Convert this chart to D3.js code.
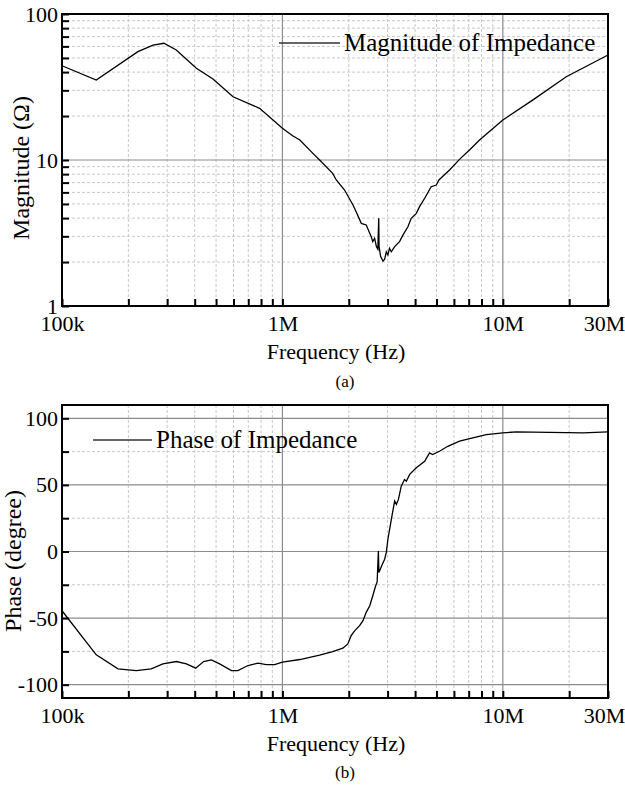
<!DOCTYPE html>
<html>
<head>
<meta charset="utf-8">
<script src="https://cdn.jsdelivr.net/npm/d3@7"></script>
<style>
  body { margin: 0; background: #fff; }
</style>
</head>
<body>
<svg id="chart" width="625" height="789"></svg>
<script>
var FONT = "'Liberation Serif', 'DejaVu Serif', 'Times New Roman', Times, serif";

// frequency axis (Hz)
var freqTicks = [1e5, 1e6, 1e7, 3e7];
var freqLabels = ["100k", "1M", "10M", "30M"];
var freqMinor = [2e5, 3e5, 4e5, 5e5, 6e5, 7e5, 8e5, 9e5, 2e6, 3e6, 4e6, 5e6, 6e6, 7e6, 8e6, 9e6, 2e7];

// magnitude curve
var magFreq = [1e5, 1.43e5, 2.21e5, 2.59e5, 2.9e5, 3.3e5, 4.07e5, 4.84e5, 5.97e5, 7.88e5,
  1.0e6, 1.117e6, 1.2e6, 1.375e6, 1.475e6, 1.69e6, 1.756e6, 1.914e6, 2.09e6, 2.16e6,
  2.28e6, 2.40e6, 2.49e6, 2.53e6, 2.57e6, 2.62e6, 2.67e6, 2.71e6, 2.735e6, 2.745e6,
  2.79e6, 2.86e6, 2.91e6, 2.96e6, 3.01e6, 3.06e6, 3.12e6, 3.23e6, 3.40e6, 3.52e6,
  3.71e6, 3.84e6, 4.05e6, 4.19e6, 4.42e6, 4.73e6, 4.99e6, 5.13e6, 5.73e6, 6.36e6,
  7.06e6, 7.84e6, 1.0e7, 1.37e7, 1.94e7, 3.0e7];
var magVal = [44.2, 35.3, 55.2, 61.3, 63.0, 56.7, 42.5, 35.9, 27.1, 22.6,
  16.5, 14.6, 13.7, 11.1, 10.0, 8.1, 7.3, 6.23, 4.92, 4.42,
  3.68, 3.59, 3.15, 2.98, 2.76, 2.91, 2.55, 2.45, 3.99, 2.55,
  2.18, 2.03, 2.09, 2.35, 2.24, 2.48, 2.35, 2.55, 2.76, 3.06,
  3.49, 3.99, 4.31, 4.79, 5.47, 6.56, 6.74, 7.3, 8.54, 10.1,
  11.7, 13.7, 18.8, 25.8, 37.2, 52.4];
var magTicks = [1, 10, 100];
var magMinor = [2, 3, 4, 5, 6, 7, 8, 9, 20, 30, 40, 50, 60, 70, 80, 90];

// phase curve
var phaseFreq = [1e5, 1.43e5, 1.795e5, 2.17e5, 2.54e5, 2.87e5, 3.3e5, 3.67e5, 4.04e5, 4.39e5,
  4.76e5, 5.19e5, 5.87e5, 6.28e5, 6.98e5, 7.74e5, 8.45e5, 9.22e5, 1.0e6, 1.2e6,
  1.475e6, 1.69e6, 1.88e6, 1.98e6, 2.05e6, 2.13e6, 2.24e6, 2.32e6, 2.40e6, 2.49e6,
  2.57e6, 2.65e6, 2.69e6, 2.725e6, 2.74e6, 2.84e6, 2.91e6, 2.96e6, 3.01e6, 3.12e6,
  3.23e6, 3.29e6, 3.36e6, 3.46e6, 3.58e6, 3.65e6, 3.78e6, 4.05e6, 4.42e6, 4.65e6,
  4.80e6, 5.16e6, 5.63e6, 6.36e6, 7.31e6, 8.41e6, 1.0e7, 1.15e7, 1.63e7, 2.31e7, 3.0e7];
var phaseVal = [-44.5, -77.6, -88.1, -89.4, -88.1, -84.4, -82.6, -84.4, -87.6, -82.6,
  -81.4, -84.4, -89.4, -89.4, -85.6, -83.8, -84.9, -84.9, -83.1, -81.1,
  -77.8, -75.1, -72.6, -69.4, -63.2, -59.4, -55.7, -51.9, -45.7, -40.7,
  -33.2, -25.7, -22.8, 0.4, -15.7, -9.5, -5.8, -0.7, 9.2, 24.2,
  37.9, 35.4, 39.1, 49.1, 54.1, 52.8, 57.9, 62.9, 67.8, 74.1,
  72.8, 75.3, 79.0, 82.8, 85.3, 87.8, 89.1, 89.8, 89.5, 89.1, 89.8];
var phaseTicks = [-100, -50, 0, 50, 100];
var phaseMinor = [-75, -25, 25, 75];

var svg = d3.select("#chart");
var left = 62, right = 608;

function addText(g, s, size){
  return g.append("text").attr("font-family", FONT).attr("font-size", size)
    .attr("fill", "#000").text(s);
}

function drawPanel(o){
  var g = svg.append("g");
  var x = d3.scaleLog().domain([1e5, 3e7]).range([left, right]);
  var y = o.y;
  var top = y.range()[1], bottom = y.range()[0];

  // minor grid (dashed)
  g.selectAll(".vminor").data(freqMinor).enter().append("line")
    .attr("x1", function(d){ return x(d); }).attr("x2", function(d){ return x(d); })
    .attr("y1", top).attr("y2", bottom)
    .attr("stroke", "#c8c8c8").attr("stroke-dasharray", "3,2");
  g.selectAll(".hminor").data(o.minor).enter().append("line")
    .attr("x1", left).attr("x2", right)
    .attr("y1", function(d){ return y(d); }).attr("y2", function(d){ return y(d); })
    .attr("stroke", "#c8c8c8").attr("stroke-dasharray", "3,2");
  // major grid
  g.selectAll(".vmajor").data([1e6, 1e7]).enter().append("line")
    .attr("x1", function(d){ return x(d); }).attr("x2", function(d){ return x(d); })
    .attr("y1", top).attr("y2", bottom)
    .attr("stroke", "#8c8c8c").attr("stroke-width", 1.2);
  g.selectAll(".hmajor").data(o.ticks).enter().append("line")
    .attr("x1", left).attr("x2", right)
    .attr("y1", function(d){ return y(d); }).attr("y2", function(d){ return y(d); })
    .attr("stroke", "#8c8c8c").attr("stroke-width", 1.2);

  // curve
  var pts = o.freq.map(function(f, i){ return [f, o.vals[i]]; });
  var line = d3.line().x(function(d){ return x(d[0]); }).y(function(d){ return y(d[1]); });
  g.append("path").datum(pts).attr("d", line)
    .attr("fill", "none").attr("stroke", "#000").attr("stroke-width", 1.3);

  // frame
  g.append("rect").attr("x", left).attr("y", top)
    .attr("width", right - left).attr("height", bottom - top)
    .attr("fill", "none").attr("stroke", "#000").attr("stroke-width", 2);

  // axes, ticks inward
  var xAxis = d3.axisBottom(x).tickValues(freqTicks.concat(freqMinor))
    .tickSizeInner(-7).tickSizeOuter(0).tickPadding(9)
    .tickFormat(function(d){ var i = freqTicks.indexOf(d); return i < 0 ? "" : freqLabels[i]; });
  var gx = g.append("g").attr("transform", "translate(0," + bottom + ")").call(xAxis);
  var yAxis = d3.axisLeft(y).tickValues(o.ticks.concat(o.minor))
    .tickSizeInner(-7).tickSizeOuter(0).tickPadding(4)
    .tickFormat(function(d){ return o.ticks.indexOf(d) < 0 ? "" : d; });
  var gy = g.append("g").attr("transform", "translate(" + left + ",0)").call(yAxis);
  [gx, gy].forEach(function(a){
    a.attr("font-family", FONT).attr("font-size", 22);
    a.select(".domain").remove();
    a.selectAll("line").attr("stroke", "#000").attr("stroke-width", 2);
    a.selectAll("text").attr("font-family", FONT).attr("font-size", 22).attr("fill", "#000");
  });
  gx.selectAll("text").filter(function(d){ return d === 3e7; }).attr("dx", -4);

  // titles
  addText(g, "Frequency (Hz)", 22).attr("x", 336).attr("y", bottom + 53)
    .attr("text-anchor", "middle");
  addText(g, o.title, 24)
    .attr("transform", "translate(" + o.titleX + "," + o.titleY + ") rotate(-90)")
    .attr("text-anchor", "middle");
  addText(g, o.caption, 17).attr("x", 345).attr("y", bottom + o.capDy)
    .attr("text-anchor", "middle");

  // legend
  g.append("line").attr("x1", o.lx1).attr("x2", o.lx2).attr("y1", o.ly).attr("y2", o.ly)
    .attr("stroke", "#333").attr("stroke-width", 1.5);
  addText(g, o.legend, 25).attr("x", o.lx2 + 4).attr("y", o.ly + 8);
}

drawPanel({
  y: d3.scaleLog().domain([1, 100]).range([306, 14]),
  ticks: magTicks, minor: magMinor, freq: magFreq, vals: magVal,
  title: "Magnitude (\u03A9)", titleX: 29, titleY: 168, caption: "(a)", capDy: 81,
  legend: "Magnitude of Impedance", lx1: 279, lx2: 340, ly: 43
});
drawPanel({
  y: d3.scaleLinear().domain([-110, 110]).range([698, 405]),
  ticks: phaseTicks, minor: phaseMinor, freq: phaseFreq, vals: phaseVal,
  title: "Phase (degree)", titleX: 21, titleY: 561, caption: "(b)", capDy: 80,
  legend: "Phase of Impedance", lx1: 93, lx2: 152, ly: 440
});
</script>
</body>
</html>
